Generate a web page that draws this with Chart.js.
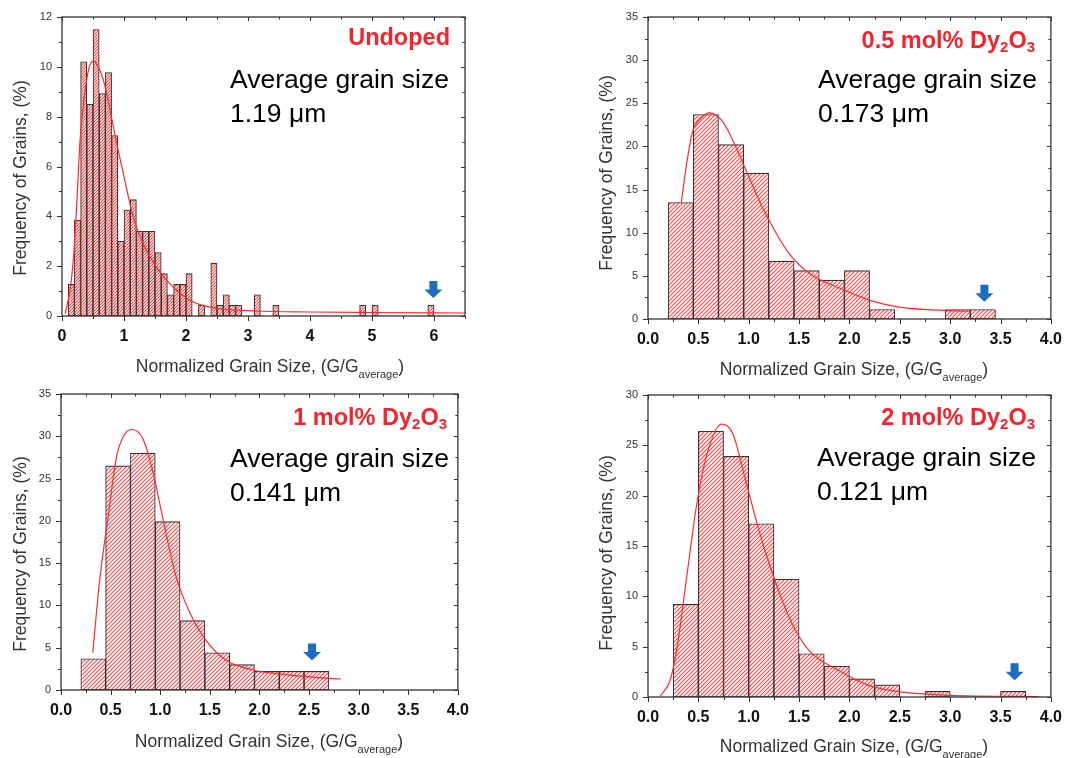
<!DOCTYPE html>
<html>
<head>
<meta charset="utf-8">
<script src="https://cdn.jsdelivr.net/npm/chart.js@4.4.1/dist/chart.umd.min.js"></script>
<style>
  body { margin: 0; background: #fff; }
  #wrap { position: relative; width: 1073px; height: 758px; overflow: hidden; font-family: 'Liberation Sans', Arial, sans-serif; }
  canvas { position: absolute; }
  .tag { position: absolute; font-weight: bold; font-size: 23.5px; line-height: 24px; color: #f5232b; white-space: nowrap; text-align: right; }
  .tag sub { font-size: 15px; line-height: 0; vertical-align: -4px; }
  .avg { position: absolute; font-size: 26.5px; line-height: 34px; color: #000; white-space: nowrap; }
  .xt { position: absolute; width: 400px; text-align: center; font-size: 17.5px; line-height: 20px; color: #333; white-space: nowrap; }
  .xt sub { font-size: 11px; line-height: 0; vertical-align: -6px; }
  .yt { position: absolute; width: 300px; height: 20px; text-align: center; font-size: 17.5px; line-height: 20px; color: #333; transform: rotate(-90deg); white-space: nowrap; }
</style>
</head>
<body>
<div id="wrap">
  <canvas id="c1" width="480" height="380" style="left:0;top:0"></canvas>
  <canvas id="c2" width="487" height="383" style="left:586px;top:0"></canvas>
  <canvas id="c3" width="480" height="381" style="left:0;top:377px"></canvas>
  <canvas id="c4" width="487" height="380" style="left:586px;top:378px"></canvas>

  <div class="tag" style="right:623px;top:25px">Undoped</div>
  <div class="tag" style="right:38px;top:28px">0.5 mol% Dy<sub>2</sub>O<sub>3</sub></div>
  <div class="tag" style="right:626px;top:405px">1 mol% Dy<sub>2</sub>O<sub>3</sub></div>
  <div class="tag" style="right:38px;top:405px">2 mol% Dy<sub>2</sub>O<sub>3</sub></div>

  <div class="avg" style="left:230px;top:62px">Average grain size<br>1.19 μm</div>
  <div class="avg" style="left:818px;top:62px">Average grain size<br>0.173 μm</div>
  <div class="avg" style="left:230px;top:441px">Average grain size<br>0.141 μm</div>
  <div class="avg" style="left:817px;top:440px">Average grain size<br>0.121 μm</div>

  <div class="xt" style="left:70px;top:356px">Normalized Grain Size, (G/G<sub>average</sub>)</div>
  <div class="xt" style="left:654px;top:359px">Normalized Grain Size, (G/G<sub>average</sub>)</div>
  <div class="xt" style="left:69px;top:731px">Normalized Grain Size, (G/G<sub>average</sub>)</div>
  <div class="xt" style="left:654px;top:736px">Normalized Grain Size, (G/G<sub>average</sub>)</div>

  <div class="yt" style="left:-130px;top:168px">Frequency of Grains, (%)</div>
  <div class="yt" style="left:456px;top:163px">Frequency of Grains, (%)</div>
  <div class="yt" style="left:-130px;top:544px">Frequency of Grains, (%)</div>
  <div class="yt" style="left:456px;top:543px">Frequency of Grains, (%)</div>
</div>

<script>
// ---- undoped (bin width 0.1) ----
const undopedBins = [0.15, 0.25, 0.35, 0.45, 0.55, 0.65, 0.75, 0.85, 0.95, 1.05, 1.15, 1.25, 1.35, 1.45, 1.55, 1.65, 1.75, 1.85, 1.95, 2.05, 2.25, 2.45, 2.55, 2.65, 2.75, 2.85, 3.15, 3.45, 4.85, 5.05, 5.95]
const undopedFreq = [1.27, 3.85, 10.2, 8.5, 11.5, 8.93, 9.77, 7.24, 3.0, 4.25, 4.67, 3.4, 3.4, 3.4, 2.55, 1.7, 0.85, 1.27, 1.27, 1.7, 0.43, 2.12, 0.43, 0.85, 0.43, 0.43, 0.85, 0.43, 0.43, 0.43, 0.43]
const undopedFitX = [0.05, 0.13, 0.19, 0.24, 0.29, 0.35, 0.43, 0.51, 0.59, 0.67, 0.75, 0.83, 0.91, 0.99, 1.15, 1.31, 1.52, 1.79, 2.11, 2.49, 3.13, 4.0, 5.0, 6.5]
const undopedFitY = [0.1, 1.05, 2.5, 4.6, 7.0, 8.6, 9.9, 10.24, 9.97, 9.44, 8.6, 7.57, 6.6, 5.7, 3.97, 2.9, 1.97, 1.17, 0.57, 0.31, 0.2, 0.16, 0.14, 0.12]

// ---- 0.5 mol% (bin width 0.25) ----
const dy05Bins = [0.325, 0.575, 0.825, 1.075, 1.325, 1.575, 1.825, 2.075, 2.325, 3.075, 3.325]
const dy05Freq = [13.5, 23.7, 20.2, 16.9, 6.7, 5.6, 4.5, 5.6, 1.1, 1.1, 1.1]
const dy05FitX = [0.33, 0.38, 0.44, 0.53, 0.61, 0.74, 0.87, 1.0, 1.13, 1.27, 1.4, 1.6, 1.96, 2.22, 2.51, 2.98, 3.2]
const dy05FitY = [13.5, 17.7, 21.6, 23.3, 23.9, 22.9, 20.0, 16.5, 13.1, 10.0, 7.6, 5.3, 3.3, 2.1, 1.35, 0.97, 0.9]

// ---- 1 mol% ----
const dy1Bins = [0.325, 0.575, 0.825, 1.075, 1.325, 1.575, 1.825, 2.075, 2.325, 2.575]
const dy1Freq = [3.7, 26.5, 28.0, 19.9, 8.2, 4.4, 3.0, 2.2, 2.2, 2.2]
const dy1FitX = [0.32, 0.39, 0.48, 0.56, 0.64, 0.72, 0.83, 0.93, 1.03, 1.16, 1.3, 1.46, 1.66, 1.93, 2.2, 2.5, 2.82]
const dy1FitY = [4.4, 13.0, 20.9, 27.6, 30.2, 30.8, 29.6, 25.6, 20.1, 13.4, 9.1, 5.9, 3.55, 2.37, 1.9, 1.55, 1.3]

// ---- 2 mol% ----
const dy2Bins = [0.375, 0.625, 0.875, 1.125, 1.375, 1.625, 1.875, 2.125, 2.375, 2.875, 3.625]
const dy2Freq = [9.2, 26.4, 23.9, 17.2, 11.7, 4.3, 3.05, 1.8, 1.2, 0.56, 0.56]
const dy2FitX = [0.12, 0.22, 0.29, 0.38, 0.48, 0.58, 0.73, 0.84, 0.97, 1.1, 1.27, 1.43, 1.6, 1.89, 2.19, 2.51, 3.0, 3.88]
const dy2FitY = [0.07, 1.66, 5.0, 11.6, 18.9, 23.9, 27.1, 26.2, 21.5, 16.6, 11.3, 7.3, 4.6, 2.65, 1.16, 0.5, 0.17, 0.05]

// arrows (x, tip y) in data units
const arrowX = [5.99, 3.34, 2.53, 3.64]
const arrowTip = [0.72, 2.0, 3.5, 1.66]

const FONT = "'Liberation Sans', Arial, sans-serif"

function hatch(gap) {
  const c = document.createElement('canvas')
  c.width = gap; c.height = gap
  const g = c.getContext('2d')
  g.fillStyle = '#fff'
  g.fillRect(0, 0, gap, gap)
  g.strokeStyle = '#ff4545'
  g.lineWidth = 1.1
  g.beginPath()
  g.moveTo(0, gap); g.lineTo(gap, 0)
  g.moveTo(-1, 1); g.lineTo(1, -1)
  g.moveTo(gap - 1, gap + 1); g.lineTo(gap + 1, gap - 1)
  g.stroke()
  return g.createPattern(c, 'repeat')
}

// box + minor ticks on all four sides
const framePlugin = {
  id: 'frame',
  afterDraw(chart, args, o) {
    const { ctx, chartArea: a, scales } = chart
    const sx = scales.x, sy = scales.y
    ctx.save()
    ctx.strokeStyle = '#333'
    ctx.lineWidth = 1.3
    ctx.strokeRect(a.left, a.top, a.right - a.left, a.bottom - a.top)
    ctx.lineWidth = 1
    ctx.beginPath()
    const isMajor = (v, m) => Math.abs(v / m - Math.round(v / m)) < 1e-6
    for (let v = sx.min; v <= sx.max + 1e-9; v += o.minorX) {
      const p = Math.round(sx.getPixelForValue(v)) + 0.5
      const big = isMajor(v, o.majorX)
      ctx.moveTo(p, a.bottom); ctx.lineTo(p, a.bottom + (big ? 5 : 3))
      ctx.moveTo(p, a.top); ctx.lineTo(p, a.top + (big ? 4 : 2.5))
    }
    for (let v = sy.min; v <= sy.max + 1e-9; v += o.minorY) {
      const p = Math.round(sy.getPixelForValue(v)) + 0.5
      const big = isMajor(v, o.majorY)
      ctx.moveTo(a.left, p); ctx.lineTo(a.left - (big ? 5 : 3), p)
      ctx.moveTo(a.right, p); ctx.lineTo(a.right - (big ? 4 : 2.5), p)
    }
    ctx.stroke()
    ctx.restore()
  }
}

const arrowPlugin = {
  id: 'arrow',
  afterDraw(chart, args, o) {
    const { ctx, scales } = chart
    const px = scales.x.getPixelForValue(o.x)
    const py = scales.y.getPixelForValue(o.tip)
    ctx.save()
    ctx.fillStyle = '#1c6ebf'
    ctx.beginPath()
    ctx.moveTo(px, py)
    ctx.lineTo(px - 9, py - 8.5)
    ctx.lineTo(px - 4, py - 8.5)
    ctx.lineTo(px - 4, py - 17)
    ctx.lineTo(px + 4, py - 17)
    ctx.lineTo(px + 4, py - 8.5)
    ctx.lineTo(px + 9, py - 8.5)
    ctx.closePath()
    ctx.fill()
    ctx.restore()
  }
}

function panel(id, p) {
  const bars = p.bins.map((x, i) => ({ x: x, y: p.freq[i] }))
  const fit = p.fitX.map((x, i) => ({ x: x, y: p.fitY[i] }))
  return new Chart(document.getElementById(id), {
    type: 'bar',
    data: {
      datasets: [
        {
          type: 'line',
          data: fit,
          borderColor: '#ff2b2b',
          borderWidth: 1.2,
          pointRadius: 0,
          cubicInterpolationMode: 'monotone',
          order: 0
        },
        {
          data: bars,
          backgroundColor: hatch(p.gap),
          borderColor: '#333',
          borderWidth: 1.1,
          borderSkipped: false,
          barPercentage: 1,
          categoryPercentage: 1,
          order: 1
        }
      ]
    },
    options: {
      responsive: false,
      animation: false,
      events: [],
      layout: { padding: { top: 17, right: p.padRight, left: 0, bottom: 0 } },
      plugins: {
        legend: { display: false },
        tooltip: { enabled: false },
        frame: { majorX: p.xStep, minorX: p.xStep / 2, majorY: p.yStep, minorY: p.yStep / 2 },
        arrow: { x: p.arrowX, tip: p.arrowTip }
      },
      scales: {
        x: {
          type: 'linear', min: 0, max: p.xMax, offset: false,
          grid: { display: false, drawTicks: false, offset: false },
          border: { display: false },
          ticks: {
            stepSize: p.xStep, includeBounds: false, autoSkip: false, maxRotation: 0,
            padding: 11, color: '#111',
            font: { family: FONT, size: 16, weight: 'bold' },
            callback: v => p.xStep < 1 ? v.toFixed(1) : String(v)
          },
          afterFit(s) { s.height = p.xH }
        },
        y: {
          min: 0, max: p.yMax,
          grid: { display: false, drawTicks: false },
          border: { display: false },
          ticks: { stepSize: p.yStep, padding: 10, color: '#333', font: { family: FONT, size: 11 } },
          afterFit(s) { s.width = p.yW }
        }
      }
    },
    plugins: [framePlugin, arrowPlugin]
  })
}

panel('c1', { bins: undopedBins, freq: undopedFreq, fitX: undopedFitX, fitY: undopedFitY, gap: 3,
  xMax: 6.5, xStep: 1, yMax: 12, yStep: 2, padRight: 15, yW: 62, xH: 64, arrowX: arrowX[0], arrowTip: arrowTip[0] })
panel('c2', { bins: dy05Bins, freq: dy05Freq, fitX: dy05FitX, fitY: dy05FitY, gap: 4,
  xMax: 4, xStep: 0.5, yMax: 35, yStep: 5, padRight: 17, yW: 62, xH: 64, arrowX: arrowX[1], arrowTip: arrowTip[1] })
panel('c3', { bins: dy1Bins, freq: dy1Freq, fitX: dy1FitX, fitY: dy1FitY, gap: 4,
  xMax: 4, xStep: 0.5, yMax: 35, yStep: 5, padRight: 20, yW: 61, xH: 68, arrowX: arrowX[2], arrowTip: arrowTip[2] })
panel('c4', { bins: dy2Bins, freq: dy2Freq, fitX: dy2FitX, fitY: dy2FitY, gap: 4,
  xMax: 4, xStep: 0.5, yMax: 30, yStep: 5, padRight: 17, yW: 62, xH: 61, arrowX: arrowX[3], arrowTip: arrowTip[3] })
</script>
</body>
</html>
